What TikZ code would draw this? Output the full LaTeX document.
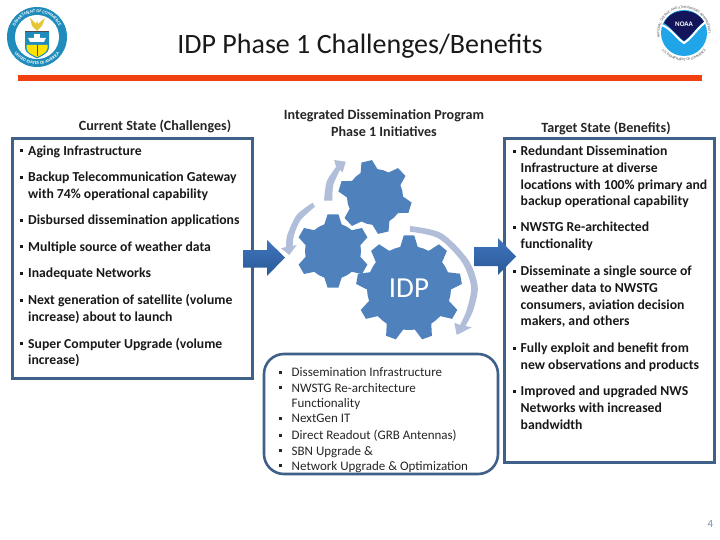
\documentclass[tikz,border=0pt]{standalone}
\usepackage{fontspec}
\setmainfont{Carlito}
\usetikzlibrary{decorations.text,calc}
\definecolor{boxc}{HTML}{3F6088}
\definecolor{gearc}{HTML}{4F81BD}
\definecolor{arcc}{HTML}{B0BEDA}
\definecolor{redc}{HTML}{F04010}
\definecolor{arrtop}{HTML}{3F74BD}
\definecolor{arrbot}{HTML}{2A5A98}
\definecolor{ring}{HTML}{1F8CBC}
\definecolor{skyc}{HTML}{1FA5E8}
\definecolor{navyc}{HTML}{14145A}
\newcommand{\bl}{\leavevmode\llap{\rule[3pt]{3pt}{3pt}\hspace{5pt}}}
\newcommand{\blr}{\leavevmode\llap{\rule[3pt]{3pt}{3pt}\hspace{10pt}}}
\newcommand{\gearpath}[6]{% cx cy outer root teeth rot
 \pgfmathsetmacro{\gstep}{360/#5}
 \pgfmathsetmacro{\gzero}{#6+0.5*\gstep}
 \fill[gearc] ($(#1,#2)+(\gzero:#4pt)$)
 \foreach \gi in {1,...,#5}{
  \pgfextra{\pgfmathsetmacro{\ga}{#6+\gi*\gstep}}
  -- ($(#1,#2)+(\ga-0.30*\gstep:#4pt)$)
  -- ($(#1,#2)+(\ga-0.14*\gstep:#3pt)$)
  -- ($(#1,#2)+(\ga+0.14*\gstep:#3pt)$)
  -- ($(#1,#2)+(\ga+0.30*\gstep:#4pt)$)
  -- ($(#1,#2)+(\ga+0.5*\gstep:#4pt)$)
 } -- cycle;
}
\tikzset{
 itemtxt/.style={anchor=north west,inner sep=0pt,align=left,font=\fontsize{13.7}{16.6}\selectfont\bfseries,text=black!90},
 cidp/.style={anchor=north west,inner sep=0pt,align=left,font=\fontsize{13}{15.6}\selectfont,text=black!85},
 headtxt/.style={inner sep=0pt,align=center,font=\fontsize{14.1}{17}\selectfont\bfseries,text=black!85},
 panel/.style={draw=boxc,line width=3pt,fill=white},
 bigarrow/.style={top color=arrtop,bottom color=arrbot,draw=none},
 arcarrow/.style={fill=arcc,draw=none}
}
\begin{document}
\begin{tikzpicture}[x=1pt,y=-1pt]
\useasboundingbox (0,0) rectangle (720,540);
\fill[white] (0,0) rectangle (720,540);
% title
\node[inner sep=0pt,font=\fontsize{28}{32}\selectfont,text=black!90] (title) at (360,46.5) {IDP Phase 1 Challenges/Benefits};
\fill[redc] (18,75) rectangle (702,81);
% DOC seal
\fill[ring] (37,37) circle[radius=30];
\fill[white] (37,37) circle[radius=22];
\path[decorate,decoration={text along path,text align=center,text={|\fontsize{4.4}{5}\selectfont\bfseries\color{white}|DEPARTMENT OF COMMERCE}}] (12.5,37) arc[start angle=180,end angle=360,radius=24.5];
\path[decorate,decoration={text along path,text align=center,text={|\fontsize{4.4}{5}\selectfont\bfseries\color{white}|UNITED STATES OF AMERICA}}] (9.2,37) arc[start angle=180,end angle=0,radius=27.8];
\fill[ring] (25,32) -- (49,32) -- (49,47) .. controls (49,54) and (41,56) .. (37,58.5) .. controls (33,56) and (25,54) .. (25,47) -- cycle;
\fill[yellow!85!orange] (26.5,45) -- (47.5,45) -- (47.5,48) .. controls (47,53) and (41,55) .. (37,57) .. controls (33,55) and (27,53) .. (26.5,48) -- cycle;
\fill[white] (28,38) -- (46,38) -- (44,42) -- (30,42) -- cycle;
\fill[white] (34,34) rectangle (40,38);
\draw[black!70,line width=.8pt] (37,45) -- (37,56);
\fill[black!70] (25,31) rectangle (49,32.5);
\fill[yellow!55!brown] (30,18) -- (36,24) -- (37,21) -- (38,24) -- (45,18) -- (42,26) -- (39,29) -- (37,31) -- (35,29) -- (32,26) -- cycle;
% NOAA seal
\fill[skyc] (684,33) circle[radius=23];
\fill[navyc] (664,23) .. controls (668,15) and (675,11) .. (684,11) .. controls (693,11) and (700,15) .. (704,22) .. controls (697,26) and (692,36) .. (684,41) .. controls (677,36) and (671,27) .. (664,23) -- cycle;
\draw[white,line width=2pt] (661,25) .. controls (670,27) and (676,38) .. (684,43) .. controls (692,38) and (698,27) .. (707,21);
\node[inner sep=0pt,font=\fontsize{7}{8}\selectfont\bfseries,text=white] (noaa) at (684,24) {NOAA};
\path[decorate,decoration={text along path,text align=center,text={|\fontsize{3.6}{4}\selectfont\color{black!70}|NATIONAL OCEANIC AND ATMOSPHERIC ADMINISTRATION}}] (659.5,33) arc[start angle=180,end angle=360,radius=24.5];
\path[decorate,decoration={text along path,text align=center,text={|\fontsize{3.6}{4}\selectfont\color{black!70}|U.S. DEPARTMENT OF COMMERCE}}] (656,33) arc[start angle=180,end angle=0,radius=28];
% panels
\draw[panel] (12,138.5) rectangle (252,378);
\draw[panel] (504,139) rectangle (714,462);
% headers
\node[headtxt] (hleft) at (155,126) {Current State (Challenges)};
\node[headtxt] (hmid) at (384,123.5) {Integrated Dissemination Program\\Phase 1 Initiatives};
\node[headtxt] (hright) at (606,128) {Target State (Benefits)};
% left items
\node[itemtxt] (l1) at (28,145.5) {\bl Aging Infrastructure};
\node[itemtxt] (l2) at (28,172) {\bl Backup Telecommunication Gateway\\with 74\% operational capability};
\node[itemtxt] (l3) at (28,215) {\bl Disbursed dissemination applications};
\node[itemtxt] (l4) at (28,241.5) {\bl Multiple source of weather data};
\node[itemtxt] (l5) at (28,268) {\bl Inadequate Networks};
\node[itemtxt] (l6) at (28,294.5) {\bl Next generation of satellite (volume\\increase) about to launch};
\node[itemtxt] (l7) at (28,338) {\bl Super Computer Upgrade (volume\\increase)};
% right items
\node[itemtxt] (r1) at (520.5,146) {\bl Redundant Dissemination\\Infrastructure at diverse\\locations with 100\% primary and\\backup operational capability};
\node[itemtxt] (r2) at (520.5,222) {\bl NWSTG Re-architected\\functionality};
\node[itemtxt] (r3) at (520.5,266) {\bl Disseminate a single source of\\weather data to NWSTG\\consumers, aviation decision\\makers, and others};
\node[itemtxt] (r4) at (520.5,343) {\bl Fully exploit and benefit from\\new observations and products};
\node[itemtxt] (r5) at (520.5,386) {\bl Improved and upgraded NWS\\Networks with increased\\bandwidth};
% gears
\gearpath{409}{288}{53}{42}{9}{10}
\gearpath{333}{251}{37}{28}{6}{30}
\gearpath{375}{197}{37}{28}{6}{-17}
\node[inner sep=0pt,font=\fontsize{29}{32}\selectfont,text=white] (idp) at (409,288) {IDP};
% curved arrows
\fill[arcc] plot[smooth] coordinates {(410,226) (441.7,233.3) (468.3,260) (477.7,286.7) (473.3,310) (465.5,326)}
 -- (471.7,327.3) -- (456.7,335) -- (454.3,322.7) -- (460,325)
 -- plot[smooth] coordinates {(460,325) (466.7,310) (471,286.7) (461.7,261.7) (438.3,238.3) (410,231.7)} -- cycle;
\fill[arcc] plot[smooth] coordinates {(324,200.7) (326.7,181.7) (336,167)}
 -- (334.3,160) -- (345.7,161.7) -- (342.7,172.3) -- (340,170)
 -- plot[smooth] coordinates {(340,170) (333.3,185) (332.3,200.7)} -- cycle;
\fill[arcc] plot[smooth] coordinates {(312.7,202.7) (296.7,215) (287.3,235) (286,247)}
 -- (281,248.3) -- (289.3,255) -- (296.7,245) -- (292.7,246)
 -- plot[smooth] coordinates {(292.7,246) (294,235) (300.7,220) (315,206.7)} -- cycle;
% panel arrows
\shade[bigarrow] (243,250) -- (267,250) -- (267,240) -- (285,257.5) -- (267,276) -- (267,267.5) -- (243,267.5) -- cycle;
\shade[bigarrow] (474,247) -- (498,247) -- (498,238) -- (516,256.5) -- (498,275) -- (498,266) -- (474,266) -- cycle;
% IDP list
\draw[panel,line width=2.6pt,rounded corners=20pt] (264,354) rectangle (498,474);
\node[cidp] (c1) at (291.5,367.5) {\blr Dissemination Infrastructure};
\node[cidp] (c2) at (291.5,383) {\blr NWSTG Re-architecture\\Functionality};
\node[cidp] (c3) at (291.5,414) {\blr NextGen IT};
\node[cidp] (c4) at (291.5,430) {\blr Direct Readout (GRB Antennas)};
\node[cidp] (c5) at (291.5,446) {\blr SBN Upgrade \&};
\node[cidp] (c6) at (291.5,461) {\blr Network Upgrade \& Optimization};
\node[inner sep=0pt,font=\fontsize{11}{12}\selectfont,text=boxc!70] (pg) at (710.5,524) {4};
\end{tikzpicture}
\end{document}
